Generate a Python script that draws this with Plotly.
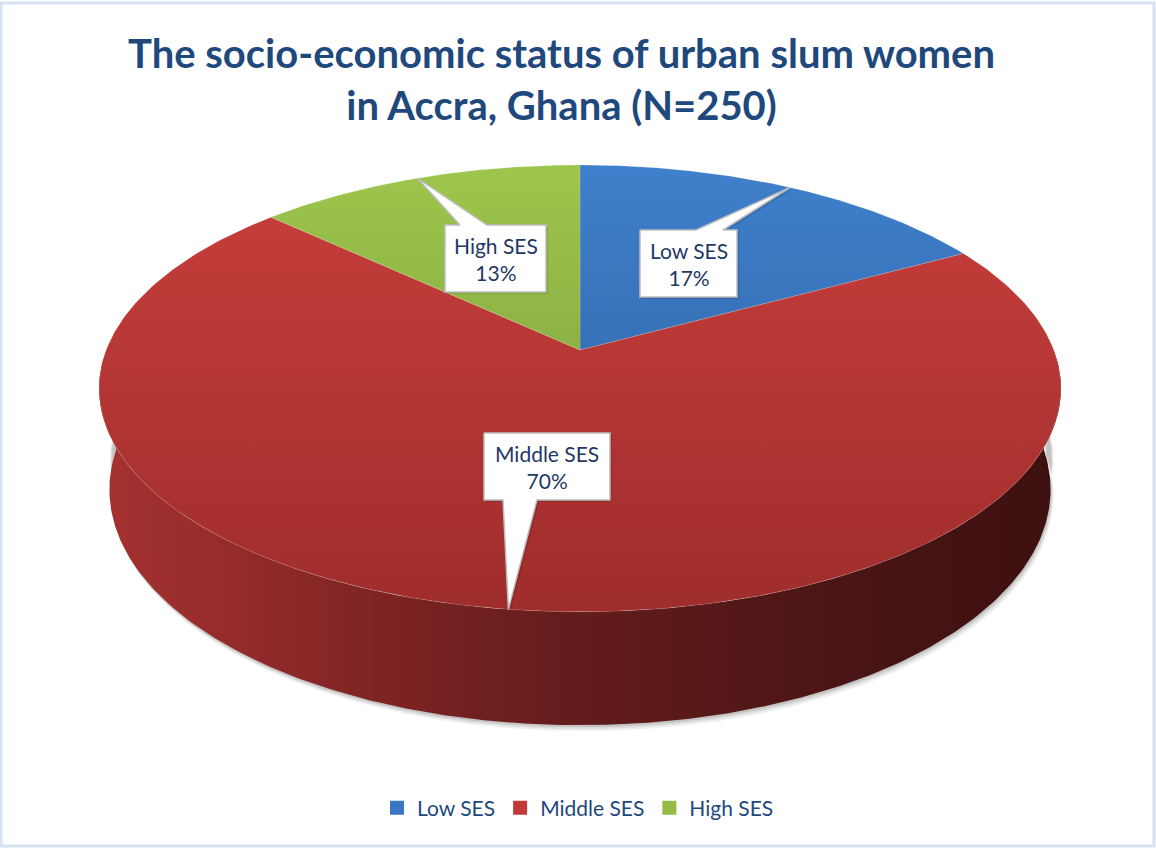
import numpy as np
import plotly.graph_objects as go

# ---------------- data ----------------
categories = ["Low SES", "Middle SES", "High SES"]
shares = [17, 70, 13]            # percent of N=250
title_lines = ["The socio-economic status of urban slum women", "in Accra, Ghana (N=250)"]

# ---------------- styles ----------------
top_colors = [("#3f80cc", "#2c5b98"), ("#c93f3c", "#9e2d2c"), ("#9ec64c", "#74953a")]
wall_scales = [
    [[0, "#2c5a94"], [1, "#12253f"]],
    [[0, "#a53231"], [0.2, "#8c2828"], [0.4, "#6f1f1f"], [0.6, "#5a1919"], [0.8, "#481414"], [1, "#3d1010"]],
    [[0, "#6f8c35"], [1, "#2f3c16"]],
]
legend_colors = ["#3a77c2", "#c03b38", "#95bb47"]
TEXT_BLUE = "#1f3864"
TITLE_BLUE = "#1f497d"
FONT = "Lato"

W, H = 1156, 849

# perspective projection of a tilted disc (pixel units)
CX, CY = 580.0, 350.0
F_OVER_D = 473.8
K = 0.172
SIN_A = 0.4576
COS_A = np.sqrt(1 - SIN_A ** 2)
D = COS_A / K
F = F_OVER_D * D
THICK = 0.2417


def project(x, z, y=0.0):
    den = D + z * COS_A - y * SIN_A
    return CX + F * x / den, CY - F * (z * SIN_A + y * COS_A) / den


def rim(theta, y=0.0):
    return project(np.sin(theta), np.cos(theta), y)


fracs = np.array(shares, dtype=float) / sum(shares)
bounds = np.concatenate([[0], np.cumsum(fracs)]) * 2 * np.pi

fig = go.Figure()

# soft drop shadow under the disc
th_all = np.linspace(np.pi / 2, 3 * np.pi / 2, 300)
sx, sy = rim(th_all, -THICK)
for off, alpha in [(6, 0.10), (4, 0.15), (2, 0.22)]:
    fig.add_trace(go.Scatter(x=np.concatenate([sx + off / 2, (sx + off / 2)[::-1]]),
                             y=np.concatenate([sy + off, (sy - 30)[::-1]]),
                             fill="toself", fillcolor=f"rgba(110,110,110,{alpha})",
                             line=dict(width=0), mode="lines", hoverinfo="skip", showlegend=False))

# side walls (visible front part only)
for i in range(len(shares)):
    a0, a1 = bounds[i], bounds[i + 1]
    lo, hi = max(a0, np.pi / 2), min(a1, 3 * np.pi / 2)
    if hi <= lo:
        continue
    th = np.linspace(lo, hi, 300)
    tx, ty = rim(th, 0.0)
    bx, by = rim(th, -THICK)
    fig.add_trace(go.Scatter(
        x=np.concatenate([tx, bx[::-1]]), y=np.concatenate([ty, by[::-1]]),
        fill="toself", fillgradient=dict(type="horizontal", colorscale=wall_scales[i],
                                         start=float(CX - 482), stop=float(CX + 482)),
        line=dict(width=0), mode="lines", hoverinfo="skip", showlegend=False))

# top faces
ytop, ybot = CY - 186, CY + 263
for i in range(len(shares)):
    th = np.linspace(bounds[i], bounds[i + 1], 300)
    tx, ty = rim(th, 0.0)
    fig.add_trace(go.Scatter(
        x=np.concatenate([[CX], tx, [CX]]), y=np.concatenate([[CY], ty, [CY]]),
        fill="toself",
        fillgradient=dict(type="vertical", colorscale=[[0, top_colors[i][0]], [1, top_colors[i][1]]],
                          start=float(ytop), stop=float(ybot)),
        line=dict(width=0.6, color="rgba(255,255,255,0.25)"), mode="lines",
        hoverinfo="skip", showlegend=False))

# legend entries
for i, name in enumerate(categories):
    fig.add_trace(go.Scatter(x=[None], y=[None], mode="markers", name=name,
                             marker=dict(symbol="square", size=14, color=legend_colors[i])))

# callout boxes: (center x, center y, width, height, pointer side, base offset start, base offset end)
callouts = [
    (688.5, 263.5, 97, 67, "top", 7.5, 34.5),
    (547.0, 466.5, 126, 67, "bottom", -44, -10),
    (495.5, 258.5, 101, 67, "top", -35.5, -8.5),
]
annotations = []
for i, (bx, by, bw, bh, side, o0, o1) in enumerate(callouts):
    mid = (bounds[i] + bounds[i + 1]) / 2
    tipx, tipy = rim(mid, 0.0)
    l, r, t, b = bx - bw / 2, bx + bw / 2, by - bh / 2, by + bh / 2
    if side == "top":
        px = [l, bx + o0, tipx, bx + o1, r, r, l, l]
        py = [t, t, tipy, t, t, b, b, t]
    else:
        px = [l, r, r, bx + o1, tipx, bx + o0, l, l]
        py = [t, t, b, b, tipy, b, b, t]
    fig.add_trace(go.Scatter(x=[v + 2 for v in px], y=[v + 2 for v in py], fill="toself",
                             fillcolor="rgba(0,0,0,0.12)", line=dict(width=0), mode="lines",
                             hoverinfo="skip", showlegend=False))
    fig.add_trace(go.Scatter(x=px, y=py, fill="toself", fillcolor="white",
                             line=dict(width=1.5, color="#bdbdbd"), mode="lines",
                             hoverinfo="skip", showlegend=False))
    annotations.append(dict(x=bx, y=by, xref="x", yref="y", showarrow=False,
                            text=f"{categories[i]}<br>{shares[i]}%",
                            font=dict(family=FONT, size=21, color=TEXT_BLUE),
                            align="center", xanchor="center", yanchor="middle"))

annotations.append(dict(x=561, y=79, xref="x", yref="y", showarrow=False,
                        text="<br>".join(title_lines),
                        font=dict(family=FONT, size=40, color=TITLE_BLUE, weight="bold"),
                        align="center", xanchor="center", yanchor="middle"))

fig.update_layout(
    width=W, height=H, autosize=False,
    margin=dict(l=0, r=0, t=0, b=0),
    paper_bgcolor="white", plot_bgcolor="white",
    xaxis=dict(range=[0, W], visible=False, fixedrange=True),
    yaxis=dict(range=[H, 0], visible=False, fixedrange=True),
    showlegend=True,
    legend=dict(orientation="h", x=0.5, xanchor="center", y=1 - 808 / H, yanchor="middle",
                font=dict(family=FONT, size=21, color=TITLE_BLUE), itemwidth=30,
                bgcolor="rgba(0,0,0,0)"),
    annotations=annotations,
    shapes=[dict(type="rect", xref="x", yref="y", x0=1, y0=3, x1=1154, y1=846,
                 line=dict(color="#d6e2f1", width=3), fillcolor="rgba(0,0,0,0)", layer="above")],
)

fig.write_html("out.html")
